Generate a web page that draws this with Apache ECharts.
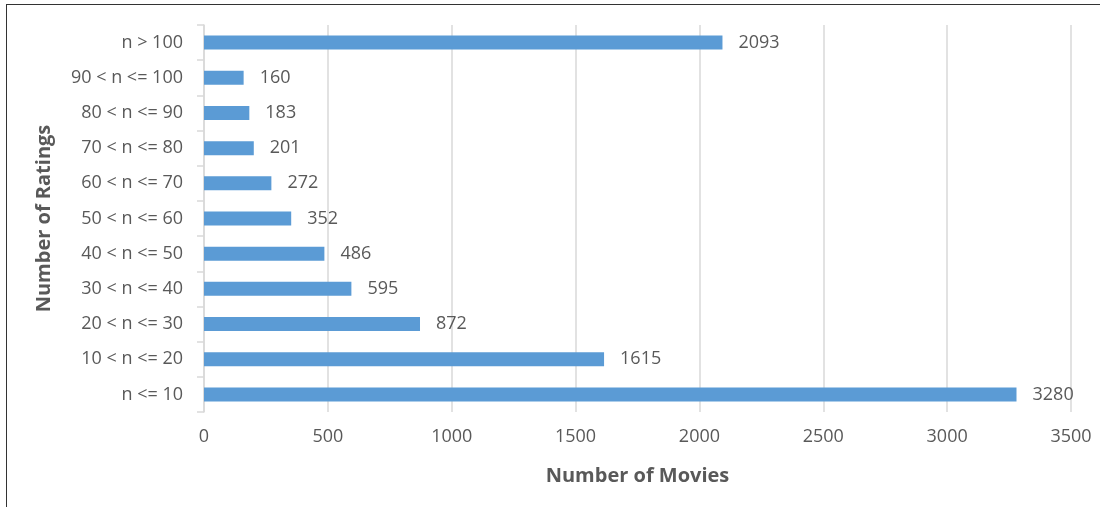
<!DOCTYPE html>
<html>
<head>
<meta charset="utf-8">
<script src="https://cdn.jsdelivr.net/npm/echarts@6/dist/echarts.min.js"></script>
<style>
  html, body { margin: 0; padding: 0; background: #fff; }
  #frame { position: absolute; left: 6px; top: 4px; width: 1200px; height: 600px; border: 1.5px solid #333; box-sizing: border-box; }
  #chart { position: absolute; left: 0; top: 0; width: 1100px; height: 507px; }
</style>
</head>
<body>
<div id="frame"></div>
<div id="chart"></div>
<script>
// Rating-count buckets, bottom to top
const categories = ['n <= 10', '10 < n <= 20', '20 < n <= 30', '30 < n <= 40', '40 < n <= 50',
  '50 < n <= 60', '60 < n <= 70', '70 < n <= 80', '80 < n <= 90', '90 < n <= 100', 'n > 100'];
const movieCounts = [3280, 1615, 872, 595, 486, 352, 272, 201, 183, 160, 2093];

const textColor = '#595959';
const fontFamily = '"Open Sans", "Noto Sans", sans-serif';

const chart = echarts.init(document.getElementById('chart'), null, { renderer: 'canvas' });
chart.setOption({
  animation: false,
  grid: { left: 204, right: 29, top: 25, bottom: 95, containLabel: false },
  xAxis: {
    type: 'value',
    min: 0, max: 3500, interval: 500,
    name: 'Number of Movies',
    nameLocation: 'middle',
    nameGap: 54,
    nameTextStyle: { color: textColor, fontSize: 20, fontWeight: 'bold', fontFamily },
    axisLine: { show: false },
    axisTick: { show: false },
    axisLabel: { color: textColor, fontSize: 18, margin: 16, fontFamily, formatter: v => String(v) },
    splitLine: { show: true, lineStyle: { color: '#d9d9d9', width: 1.5 } }
  },
  yAxis: {
    type: 'category',
    data: categories,
    name: 'Number of Ratings',
    nameLocation: 'middle',
    nameGap: 150,
    nameTextStyle: { color: textColor, fontSize: 20, fontWeight: 'bold', fontFamily },
    axisLine: { show: true, lineStyle: { color: '#d9d9d9', width: 1.5 } },
    axisTick: { show: true, length: 7, lineStyle: { color: '#d9d9d9', width: 1.5 } },
    axisLabel: { color: textColor, fontSize: 18, margin: 21, fontFamily }
  },
  series: [{
    type: 'bar',
    data: movieCounts,
    barWidth: 14,
    itemStyle: { color: '#5b9bd5' },
    label: {
      show: true, position: 'right', distance: 16,
      color: textColor, fontSize: 18, fontFamily
    }
  }]
});
</script>
</body>
</html>
